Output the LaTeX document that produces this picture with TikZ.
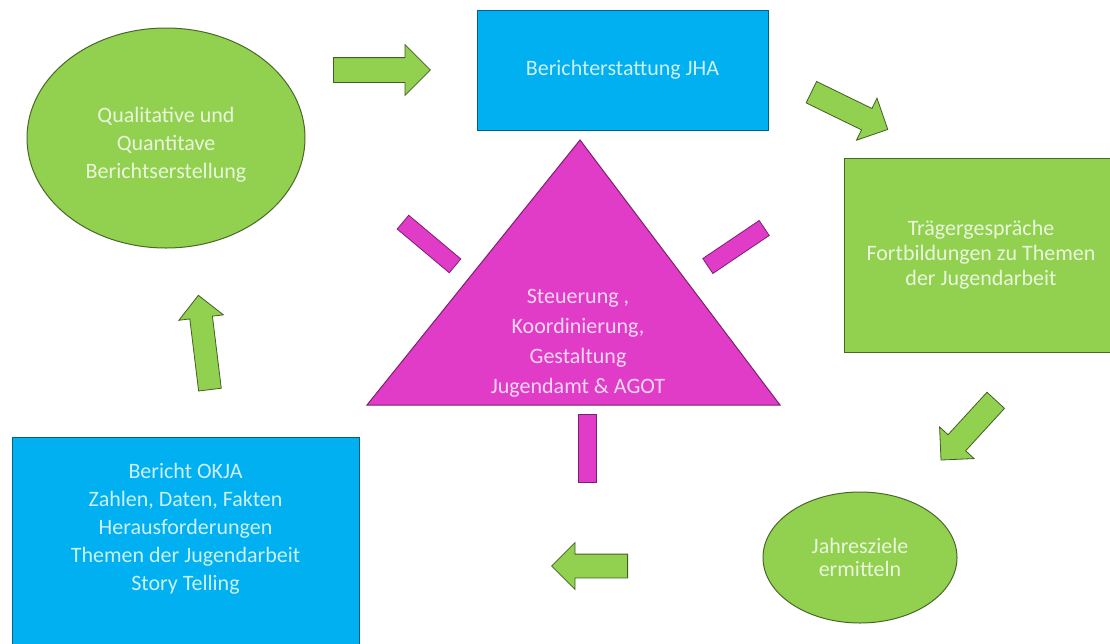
\documentclass[tikz,border=0pt]{standalone}
\usepackage{fontspec}
\setmainfont{Carlito}
\usepackage{xcolor}
\usepackage{tikz}
\usetikzlibrary{shapes.geometric, shapes.arrows, positioning}

\definecolor{offgreen}{HTML}{92D050}
\definecolor{offblue}{HTML}{00B0F0}
\definecolor{offpink}{HTML}{E03CC8}

\begin{document}
\begin{tikzpicture}[
        x=1pt, y=-1pt, % pixel-like coordinates, y downwards
        txt/.style={align=center, font=\fontsize{22}{28}\selectfont},
        greenoval/.style={ellipse, draw=offgreen!50!black, fill=offgreen, line width=1pt,
                          inner sep=0pt, txt, text=offgreen!20!white},
        bluebox/.style={rectangle, draw=offblue!55!black, fill=offblue, line width=1pt,
                        inner sep=0pt, txt, text=offblue!20!white},
        greenbox/.style={rectangle, draw=offgreen!50!black, fill=offgreen, line width=1pt,
                         inner sep=0pt, txt, text=offgreen!20!white},
        pinkbar/.style={rectangle, draw=offpink!55!black, fill=offpink, line width=0.8pt,
                        inner sep=0pt, minimum width=68pt, minimum height=18pt},
        flow/.style={single arrow, draw=offgreen!45!black, fill=offgreen, line width=0.8pt,
                     inner xsep=0pt, inner ysep=11.5pt, single arrow head extend=11.5pt, anchor=tail}
      ]

      \useasboundingbox (0,0) rectangle (1110,643);
      \fill[white] (0,0) rectangle (1110,643);

      % --- Main blocks ---
      \node (quali) [greenoval, minimum width=278pt, minimum height=220pt] at (166,138) {};
      \node (qualitext) [txt, text=offgreen!20!white] at (166,145)
            {Qualitative und\\Quantitave\\Berichtserstellung};
      \node (jha) [bluebox, minimum width=291pt, minimum height=120pt] at (622.5,70)
            {Berichterstattung JHA};
      \node (traeger) [greenbox, minimum width=274pt, minimum height=194pt,
                       font=\fontsize{22}{25}\selectfont] at (981,255)
            {Trägergespräche\\Fortbildungen zu Themen\\der Jugendarbeit};
      \node (ziele) [greenoval, minimum width=194pt, minimum height=131pt,
                     font=\fontsize{22}{23}\selectfont] at (860,557.5)
            {Jahresziele\\ermitteln};
      \node (okja) [bluebox, minimum width=347pt, minimum height=216pt] at (185.5,545) {};
      \node (okjatext) [txt, text=offblue!20!white] at (185.5,529)
            {Bericht OKJA\\Zahlen, Daten, Fakten\\Herausforderungen\\Themen der Jugendarbeit\\Story Telling};

      % --- Centre triangle ---
      \draw [draw=offpink!55!black, fill=offpink, line width=1pt]
            (367,405) coordinate (triL) -- (580,140) coordinate (triTop) -- (780,405) coordinate (triR) -- cycle;
      \node (steuer) [txt, text=offpink!20!white, font=\fontsize{22}{30}\selectfont] at (578,343)
            {Steuerung ,\\Koordinierung,\\Gestaltung\\Jugendamt \& AGOT};

      % rays
      \node (rayleft) [pinkbar, rotate=-40] at (429,244) {};
      \node (rayright) [pinkbar, rotate=34] at (736,247) {};
      \node (raybottom) [pinkbar, rotate=90] at (587,448) {};

      % --- Cycle arrows (placed at their tails) ---
      \node (flowA) [flow, minimum height=97pt, inner ysep=12pt, single arrow head extend=13pt] at (333,70) {};
      \node (flowB) [flow, minimum height=85pt, rotate=-26] at (811,92) {};
      \node (flowC) [flow, minimum height=81pt, rotate=-132.5] at (996,400) {};
      \node (flowD) [flow, minimum height=76pt, rotate=180] at (628,566) {};
      \node (flowE) [flow, minimum height=95pt, inner ysep=11pt, single arrow head extend=11pt, rotate=97] at (210,390) {};

    \end{tikzpicture}
\end{document}
